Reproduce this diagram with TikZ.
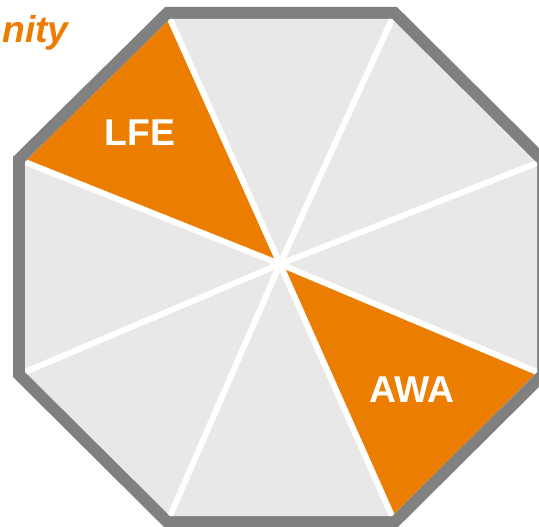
\documentclass[tikz,border=0pt]{standalone}
\usepackage{fontspec}
\setmainfont{Liberation Sans}

\definecolor{octorange}{RGB}{235,125,0}
\definecolor{octgray}{RGB}{128,128,128}
\definecolor{slicegray}{RGB}{232,232,232}

\tikzset{
  slicelabel/.style={white,font=\bfseries\fontsize{28}{28}\selectfont},
  divider/.style={white,line width=4.5pt}
}

\begin{document}
\begin{tikzpicture}[x=0.75pt,y=-0.75pt]
    \useasboundingbox (0,0) rectangle (539,527);

    \coordinate (c)  at (280,264);
    \coordinate (v1) at (170,19);
    \coordinate (v2) at (392,19);
    \coordinate (v3) at (537,163);
    \coordinate (v4) at (537,372);
    \coordinate (v5) at (392,516);
    \coordinate (v6) at (170,516);
    \coordinate (v7) at (25,372);
    \coordinate (v8) at (25,162);

    \draw [octgray,line width=18pt,line join=miter] (v1) -- (v2) -- (v3) -- (v4) -- (v5) -- (v6) -- (v7) -- (v8) -- cycle;
    \fill [slicegray] (v1) -- (v2) -- (v3) -- (v4) -- (v5) -- (v6) -- (v7) -- (v8) -- cycle;

    \fill [octorange] (c) -- (v8) -- (v1) -- cycle;
    \fill [octorange] (c) -- (v4) -- (v5) -- cycle;

    \begin{scope}
      \clip (v1) -- (v2) -- (v3) -- (v4) -- (v5) -- (v6) -- (v7) -- (v8) -- cycle;
      \foreach \i in {1,...,8}
        \draw [divider] (c) -- (v\i);
    \end{scope}

    \node [slicelabel] (lfe) at (140,133) {LFE};
    \node [slicelabel] (awa) at (412,390) {AWA};

    \node [anchor=base east,inner sep=0pt,octorange,font=\bfseries\itshape\fontsize{28}{28}\selectfont] (title) at (69,43) {nity};
\end{tikzpicture}
\end{document}
